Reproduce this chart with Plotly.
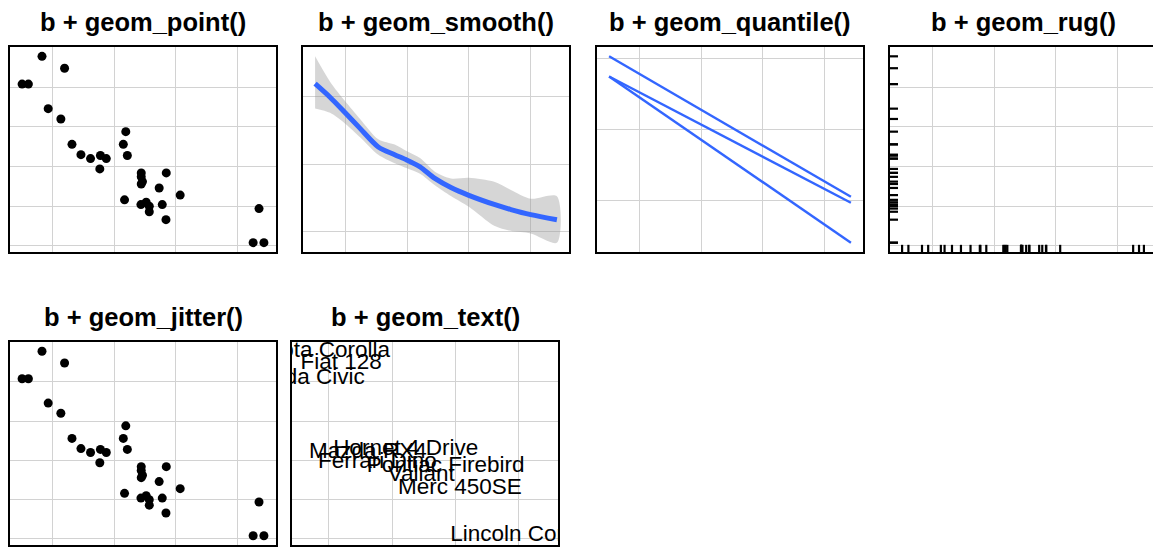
import plotly.graph_objects as go

# ---- data (mtcars: wt vs mpg) ----
cars = ["Mazda RX4", "Mazda RX4 Wag", "Datsun 710", "Hornet 4 Drive", "Hornet Sportabout",
        "Valiant", "Duster 360", "Merc 240D", "Merc 230", "Merc 280", "Merc 280C",
        "Merc 450SE", "Merc 450SL", "Merc 450SLC", "Cadillac Fleetwood", "Lincoln Continental",
        "Chrysler Imperial", "Fiat 128", "Honda Civic", "Toyota Corolla", "Toyota Corona",
        "Dodge Challenger", "AMC Javelin", "Camaro Z28", "Pontiac Firebird", "Fiat X1-9",
        "Porsche 914-2", "Lotus Europa", "Ford Pantera L", "Ferrari Dino", "Maserati Bora",
        "Volvo 142E"]
wt = [2.620, 2.875, 2.320, 3.215, 3.440, 3.460, 3.570, 3.190, 3.150, 3.440, 3.440,
      4.070, 3.730, 3.780, 5.250, 5.424, 5.345, 2.200, 1.615, 1.835, 2.465,
      3.520, 3.435, 3.840, 3.845, 1.935, 2.140, 1.513, 3.170, 2.770, 3.570, 2.780]
mpg = [21.0, 21.0, 22.8, 21.4, 18.7, 18.1, 14.3, 24.4, 22.8, 19.2, 17.8,
       16.4, 17.3, 15.2, 10.4, 10.4, 14.7, 32.4, 30.4, 33.9, 21.5,
       15.5, 15.2, 13.3, 19.2, 27.3, 26.0, 30.4, 15.8, 19.7, 15.0, 21.4]

# cars labelled in the geom_text panel
text_cars = ["Toyota Corolla", "Fiat 128", "Honda Civic", "Hornet 4 Drive", "Mazda RX4",
             "Ferrari Dino", "Pontiac Firebird", "Valiant", "Merc 450SE", "Lincoln Continental"]

# loess smooth
smooth_wt = [1.513, 1.755, 2.0, 2.24, 2.535, 2.80, 3.0, 3.21, 3.45, 3.71, 4.0, 4.41, 4.68, 5.0, 5.424]
smooth_fit = [31.9, 29.9, 27.6, 25.3, 22.55, 21.4, 20.6, 19.6, 17.9, 16.55, 15.4, 14.05, 13.3, 12.55, 11.8]
smooth_lo = [28.25, 27.6, 26.0, 24.0, 21.4, 20.15, 19.4, 18.6, 16.9, 15.3, 13.7, 10.9, 10.15, 9.75, 8.4]
smooth_hi = [35.95, 32.2, 29.3, 26.7, 23.7, 22.9, 21.9, 20.9, 18.9, 17.9, 18.0, 17.4, 16.2, 14.9, 15.25]

# quantile regression lines (tau 0.25, 0.5, 0.75) at the ends of the wt range
q_wt = [1.513, 5.424]
q25 = [27.45, 4.12]
q50 = [27.45, 9.72]
q75 = [30.28, 10.57]

titles = ["b + geom_point()", "b + geom_smooth()", "b + geom_quantile()", "b + geom_rug()",
          "b + geom_jitter()", "b + geom_text()"]

# ---- layout helpers ----
W, H = 1153, 547
BLUE = "#3366FF"
GRID = "#d2d2d2"
FONT = "Liberation Sans, Arial, Helvetica, sans-serif"

def expand(lo, hi, f=0.05):
    r = hi - lo
    return [lo - f * r, hi + f * r]

xr = expand(min(wt), max(wt))
yr = expand(min(mpg), max(mpg))
t_wt = [w for w, c in zip(wt, cars) if c in text_cars]
t_mpg = [m for m, c in zip(mpg, cars) if c in text_cars]
t_lab = [c for c in cars if c in text_cars]
xr_text = expand(min(t_wt), max(t_wt))
yr_text = expand(min(t_mpg), max(t_mpg))
yr_smooth = expand(min(smooth_lo), max(smooth_hi))
yr_q = expand(min(q25 + q50 + q75), max(q25 + q50 + q75))

# panel pixel boxes (x0, x1, y0, y1)
boxes = [(10, 276, 47, 252), (303, 569, 47, 252), (597, 863, 47, 252), (890, 1153, 47, 252),
         (10, 276, 342, 545), (292, 558, 342, 545)]
# rug panel is cut off at the window edge: shorten range proportionally
rug_full_w = 266
xr_rug = [xr[0], xr[0] + (xr[1] - xr[0]) * (1153 - 890) / rug_full_w]

xranges = [xr, xr, xr, xr_rug, xr, xr_text]
yranges = [yr, yr_smooth, yr_q, yr, yr, yr_text]
ydticks = [5, 10, 10, 5, 5, 5]

fig = go.Figure()

def ax(i):
    return ("x" if i == 0 else f"x{i+1}"), ("y" if i == 0 else f"y{i+1}")

# 1: points
xa, ya = ax(0)
fig.add_trace(go.Scatter(x=wt, y=mpg, mode="markers", marker=dict(color="black", size=9),
                         xaxis=xa, yaxis=ya, hoverinfo="skip"))
# 2: smooth
xa, ya = ax(1)
fig.add_trace(go.Scatter(x=smooth_wt + smooth_wt[::-1], y=smooth_hi + smooth_lo[::-1],
                         fill="toself", fillcolor="rgba(153,153,153,0.4)", mode="lines",
                         line=dict(width=0, shape="spline", smoothing=0.8),
                         xaxis=xa, yaxis=ya, hoverinfo="skip"))
fig.add_trace(go.Scatter(x=smooth_wt, y=smooth_fit, mode="lines",
                         line=dict(color=BLUE, width=5, shape="spline", smoothing=0.8),
                         xaxis=xa, yaxis=ya, hoverinfo="skip"))
# 3: quantile
xa, ya = ax(2)
for q in (q25, q50, q75):
    fig.add_trace(go.Scatter(x=q_wt, y=q, mode="lines", line=dict(color=BLUE, width=2.4),
                             xaxis=xa, yaxis=ya, hoverinfo="skip"))
# 4: rug
xa, ya = ax(3)
rug_len_y = 0.035 * (yr[1] - yr[0])
rug_len_x = 0.03 * (xr[1] - xr[0])
rx, ry = [], []
for w in wt:
    rx += [w, w, None]
    ry += [yr[0], yr[0] + rug_len_y, None]
lx, ly = [], []
for m in mpg:
    lx += [xr[0], xr[0] + rug_len_x, None]
    ly += [m, m, None]
fig.add_trace(go.Scatter(x=rx, y=ry, mode="lines", line=dict(color="black", width=2.2),
                         xaxis=xa, yaxis=ya, hoverinfo="skip"))
fig.add_trace(go.Scatter(x=lx, y=ly, mode="lines", line=dict(color="black", width=2.2),
                         xaxis=xa, yaxis=ya, hoverinfo="skip"))
# 5: jitter
xa, ya = ax(4)
fig.add_trace(go.Scatter(x=wt, y=mpg, mode="markers", marker=dict(color="black", size=9),
                         xaxis=xa, yaxis=ya, hoverinfo="skip"))
# 6: text
xa, ya = ax(5)
fig.add_trace(go.Scatter(x=t_wt, y=t_mpg, text=t_lab, mode="text", textposition="middle center",
                         textfont=dict(family=FONT, size=22.5, color="black"), cliponaxis=True,
                         xaxis=xa, yaxis=ya, hoverinfo="skip"))

layout = dict(width=W, height=H, margin=dict(l=0, r=0, t=0, b=0), showlegend=False,
              paper_bgcolor="white", plot_bgcolor="white")
annotations = []
for i, (x0, x1, y0, y1) in enumerate(boxes):
    xk = "xaxis" if i == 0 else f"xaxis{i+1}"
    yk = "yaxis" if i == 0 else f"yaxis{i+1}"
    xa, ya = ax(i)
    layout[xk] = dict(domain=[x0 / W, x1 / W], range=xranges[i], anchor=ya,
                      showgrid=True, gridcolor=GRID, gridwidth=1, tick0=0, dtick=1,
                      showticklabels=False, ticks="", zeroline=False,
                      showline=True, linecolor="black", linewidth=2, mirror=True)
    layout[yk] = dict(domain=[1 - y1 / H, 1 - y0 / H], range=yranges[i], anchor=xa,
                      showgrid=True, gridcolor=GRID, gridwidth=1, tick0=0, dtick=ydticks[i],
                      showticklabels=False, ticks="", zeroline=False,
                      showline=True, linecolor="black", linewidth=2, mirror=(i != 3))
    cx = ((x0 + (x0 + 266)) / 2) / W if i == 3 else ((x0 + x1) / 2) / W
    annotations.append(dict(text="<b>" + titles[i] + "</b>", x=cx, y=1 - (y0 - 25) / H,
                            xref="paper", yref="paper", showarrow=False,
                            xanchor="center", yanchor="middle",
                            font=dict(family=FONT, size=25.5, color="black")))
layout["annotations"] = annotations
fig.update_layout(**layout)

fig.write_html("out.html", config={"displayModeBar": False},
               post_script="document.body.style.margin='0px';document.body.style.overflow='hidden';")
